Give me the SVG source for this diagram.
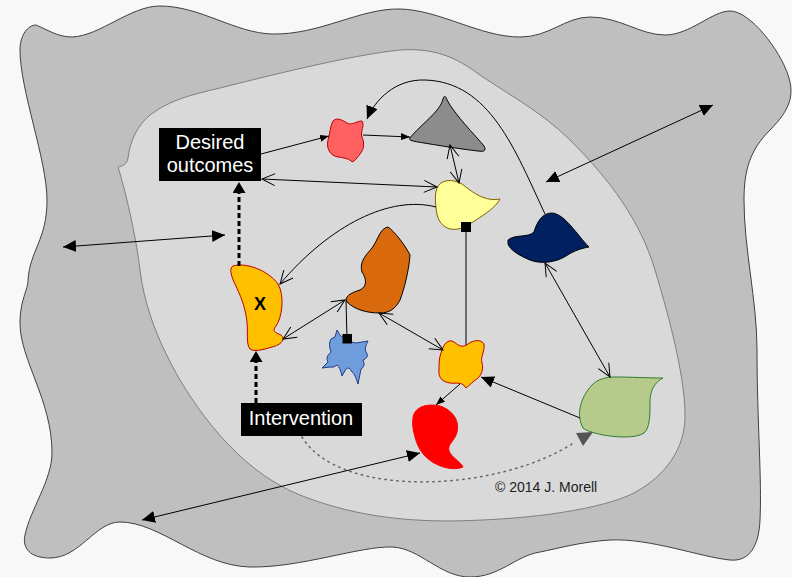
<svg xmlns="http://www.w3.org/2000/svg" width="792" height="577" viewBox="0 0 792 577">
  <style>
    .ln { fill: none; stroke: #000; stroke-width: 1; }
    .dash { fill: none; stroke: #000; stroke-width: 3; stroke-dasharray: 5 3; }
    .dot { fill: none; stroke: #666; stroke-width: 1.5; stroke-dasharray: 1.5 4.5; stroke-linecap: round; }
    .lbl rect { fill: #000; }
    .lbl text { fill: #fff; font-family: "Liberation Sans", Arial, sans-serif; font-size: 20px; text-anchor: middle; }
    .blob { stroke-width: 1; }
  </style>
  <defs>
    <marker id="fs" viewBox="0 0 9 7" refX="9" refY="3.5" markerWidth="9" markerHeight="7" markerUnits="userSpaceOnUse" orient="auto-start-reverse">
      <path d="M0,0 L9,3.5 L0,7 z" fill="#000"/>
    </marker>
    <marker id="fl" viewBox="0 0 13 12" refX="13" refY="6" markerWidth="13" markerHeight="12" markerUnits="userSpaceOnUse" orient="auto-start-reverse">
      <path d="M0,0 L13,6 L0,12 z" fill="#000"/>
    </marker>
    <marker id="hd" viewBox="0 0 11 13" refX="0" refY="6.5" markerWidth="11" markerHeight="13" markerUnits="userSpaceOnUse" orient="auto">
      <path d="M0,0 L11,6.5 L0,13 z" fill="#000"/>
    </marker>
    <marker id="op" viewBox="-1 -1 16 15" refX="13" refY="6" markerWidth="16" markerHeight="15" markerUnits="userSpaceOnUse" orient="auto-start-reverse" overflow="visible">
      <path d="M0,0 L13,6 L0,12" fill="none" stroke="#000" stroke-width="1"/>
    </marker>
  </defs>

  <!-- backdrop -->
  <rect x="0" y="0" width="792" height="577" fill="#f8f8f8"/>

  <!-- outer environment -->
  <path id="outer" fill="#bfbfbf" stroke="#404040" stroke-width="1"
        d="M 36,25 C 48,30 58,37 72,37 C 100,36 130,6 160,6 C 200,6 235,33 272,34 C 320,35 360,8 400,9
           C 440,10 480,37 520,37 C 550,37 565,17 590,17 C 620,17 640,35 665,35 C 690,35 712,11 730,11
           C 750,11 780,50 788,75 C 795,95 790,110 770,130 C 750,150 744,170 744,200
           C 744,250 757,300 757,350 C 757,420 762,480 760,520 C 759,545 750,562 730,560
           C 700,557 650,538 610,540 C 580,542 560,548 540,552 C 515,556 500,577 470,577
           C 440,577 420,548 392,547 C 360,546 300,568 250,567 C 200,566 160,522 120,522
           C 95,522 80,558 50,558 C 30,558 22,548 25,535 C 30,510 52,480 52,453
           C 52,400 20,360 20,323 C 20,300 28,290 28,280 C 30,250 47,240 47,200
           C 47,160 20,90 20,50 C 20,35 28,25 36,25 Z"/>

  <!-- inner system boundary -->
  <path id="inner" fill="#d9d9d9" stroke="#7f7f7f" stroke-width="1"
        d="M 118,167 C 122,166 127,165 128,158 C 130,140 138,125 150,115 C 170,100 190,95 220,88
           C 260,78 350,55 400,50 C 430,48 450,55 470,68 C 500,90 540,110 570,140
           C 610,180 640,220 655,270 C 670,320 686,380 685,420 C 683,455 660,480 630,495
           C 590,512 520,520 450,521 C 400,521 350,515 300,495 C 250,475 210,430 180,380
           C 160,345 145,310 140,270 C 135,230 125,190 118,167 Z"/>

  <!-- nodes -->
  <g id="node-x">
    <path class="blob" fill="#ffc000" stroke="#c00000"
          d="M 233,266 C 245,262 268,270 278,284 C 285,296 282,318 276,326 C 272,331 274,332 281,335
             C 286,339 281,345 272,347 C 262,350 254,352 250,349 C 246,344 248,333 247,322
             C 245,305 240,295 235,284 C 231,276 229,268 233,266 Z"/>
    <text x="260" y="310" font-family="Liberation Sans, Arial, sans-serif" font-size="18" font-weight="bold" text-anchor="middle" fill="#000">X</text>
  </g>

  <g id="node-pink">
    <path class="blob" fill="#ff6161" stroke="#c00000"
          d="M 333,121 C 337,117 342,120 347,123 C 352,126 356,121 362,121 C 365,125 360,132 362,137
             C 364,142 365,148 360,154 C 357,158 355,161 352,162 C 350,159 345,158 338,157
             C 330,156 326,148 328,140 C 330,134 330,126 333,121 Z"/>
  </g>

  <g id="node-gray">
    <path class="blob" fill="#8c8c8c" stroke="#000"
          d="M 410,138 C 420,125 440,112 443,99 C 444,95 446,96 447,100 C 455,115 475,135 484,146
             C 487,151 483,152 478,151 C 460,149 430,144 418,142 C 412,141 408,140 410,138 Z"/>
  </g>

  <g id="node-yellow">
    <path class="blob" fill="#ffff99" stroke="#7f6000"
          d="M 437,188 C 440,180 452,178 462,184 C 472,192 485,202 500,199 C 495,208 485,214 476,220
             C 468,225 460,231 450,229 C 440,226 437,218 436,208 C 435,200 435,193 437,188 Z"/>
  </g>

  <g id="node-navy">
    <path class="blob" fill="#002060" stroke="#000"
          d="M 508,240 C 515,234 528,238 534,232 C 537,222 542,213 552,213 C 565,214 577,235 589,247
             C 583,248 575,250 566,256 C 555,263 540,264 530,260 C 520,256 510,250 508,244 Z"/>
  </g>

  <g id="node-orange">
    <path class="blob" fill="#d9690d" stroke="#000"
          d="M 388,227 C 395,232 405,245 410,255 C 409,270 404,290 400,300 C 396,308 390,313 380,313
             C 368,313 355,310 347,302 C 344,297 350,293 360,290 C 368,286 366,278 362,272
             C 359,262 366,255 372,248 C 378,240 380,228 388,227 Z"/>
  </g>

  <g id="node-blue">
    <path class="blob" fill="#6f9ddc" stroke="#1f3c88"
          d="M 322,368 L 328,362 Q 325,357 331,352 Q 328,344 331,339 L 335,337 L 337,330 Q 340,337 344,338
             Q 350,343 356,343 L 368,341 Q 364,348 366,352 Q 370,357 363,360 Q 366,366 361,369 L 358,384
             Q 355,374 352,372 Q 349,366 346,369 L 342,376 Q 340,367 337,365 Q 334,368 330,367 Z"/>
  </g>

  <g id="node-gold">
    <path class="blob" fill="#ffc000" stroke="#c00000"
          d="M 441,353 C 443,345 448,338 454,342 C 459,346 463,348 468,344 C 473,340 481,339 484,344
             C 485,352 480,357 482,363 C 484,370 481,377 474,381 C 471,384 468,386 466,388
             C 462,381 456,384 450,383 C 443,382 438,378 439,370 C 439,364 439,358 441,353 Z"/>
  </g>

  <g id="node-red">
    <path class="blob" fill="#ff0000" stroke="#ff0000"
          d="M 413,418 C 414,407 427,403 440,406 C 452,410 460,420 457,432 C 455,441 447,444 449,451
             C 452,458 461,462 463,467 C 456,470 445,469 434,463 C 424,457 418,449 415,437
             C 413,430 412,424 413,418 Z"/>
  </g>

  <g id="node-green">
    <path class="blob" fill="#b6cb8b" stroke="#2e7d32"
          d="M 583,428 C 576,415 580,398 592,385 C 598,379 606,377 615,377 C 630,377 650,378 663,378
             C 655,382 650,390 650,402 C 650,415 650,428 644,433 C 635,439 615,437 603,435
             C 594,433 587,431 583,428 Z"/>
  </g>

  <!-- connectors, drawn over the nodes so the square start markers sit on top -->
  <g id="connectors">
    <path class="ln" d="M 261,154 L 329,136" marker-end="url(#fs)"/>
    <path class="ln" d="M 363,135 L 410,137" marker-end="url(#fs)"/>
    <path class="ln" d="M 545,214 C 515,150 490,82 425,80 C 395,79 375,100 367,119" marker-end="url(#fl)"/>
    <path class="ln" d="M 450,145 L 459,183" marker-start="url(#op)" marker-end="url(#op)"/>
    <path class="ln" d="M 262,179 L 437,187" marker-start="url(#op)" marker-end="url(#op)"/>
    <path class="ln" d="M 436,207 C 390,195 330,225 280,284" marker-end="url(#op)"/>
    <path class="ln" d="M 283,339 L 345,300" marker-start="url(#op)" marker-end="url(#op)"/>
    <path class="ln" d="M 347,339 L 346,300"/>
    <rect x="342.5" y="334" width="9.5" height="9.5" fill="#000"/>
    <path class="ln" d="M 379,313 L 443,350" marker-start="url(#op)" marker-end="url(#op)"/>
    <path class="ln" d="M 466,232 L 466,345"/>
    <rect x="461" y="222" width="10" height="10" fill="#000"/>
    <path class="ln" d="M 460,384 L 436,405" marker-end="url(#fs)"/>
    <path class="ln" d="M 580,418 L 481,377" marker-end="url(#fl)"/>
    <path class="ln" d="M 545,263 L 610,377" marker-start="url(#op)" marker-end="url(#op)"/>
    <path class="dot" d="M 302,437 C 340,500 500,492 575,442"/>
    <polygon points="576,433 593,432 583,446" fill="#555"/>
    <path class="dash" d="M 239,266 L 239,193" marker-end="url(#hd)"/>
    <path class="dash" d="M 256,403 L 256,362" marker-end="url(#hd)"/>
    <path class="ln" d="M 63,247 L 225,235" marker-start="url(#fl)" marker-end="url(#fl)"/>
    <path class="ln" d="M 546,182 L 713,105" marker-start="url(#fl)" marker-end="url(#fl)"/>
    <path class="ln" d="M 142,520 L 420,453" marker-start="url(#fl)" marker-end="url(#fl)"/>
  </g>

  <g id="desired" class="lbl">
    <rect x="159" y="128" width="102" height="53"/>
    <text x="210" y="149">Desired</text>
    <text x="210" y="172">outcomes</text>
  </g>

  <g id="intervention" class="lbl">
    <rect x="241" y="403" width="121" height="33"/>
    <text x="301" y="425">Intervention</text>
  </g>

  <text x="495" y="492" font-family="Liberation Sans, Arial, sans-serif" font-size="14" fill="#222">© 2014 J. Morell</text>
</svg>
